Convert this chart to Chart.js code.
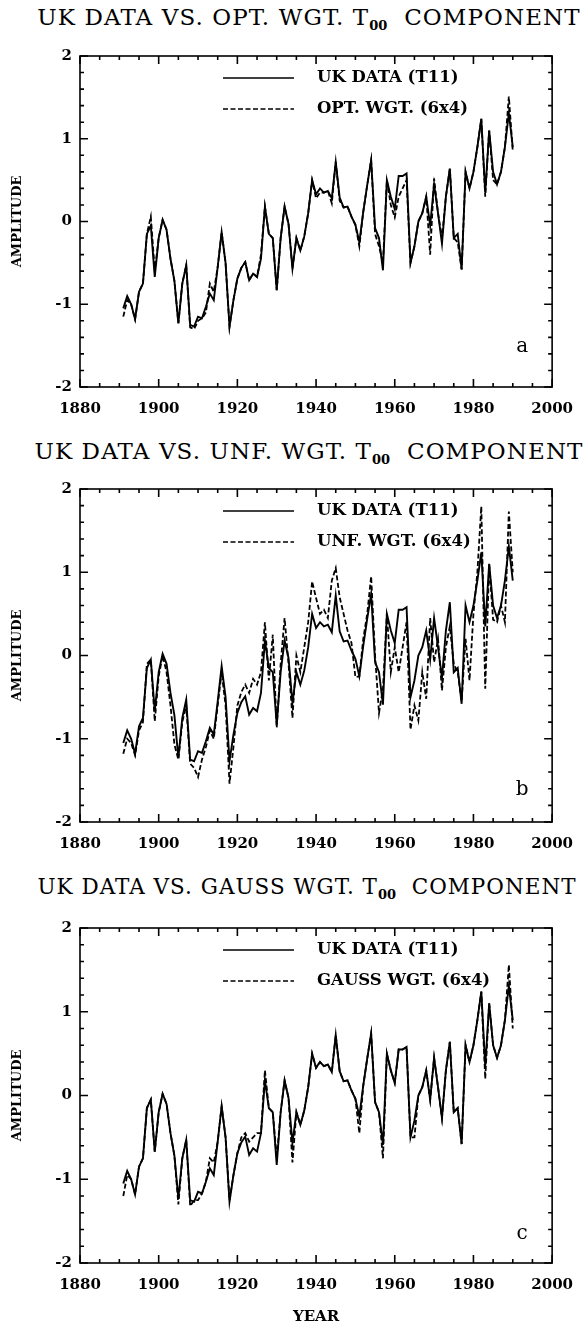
<!DOCTYPE html>
<html>
<head>
<meta charset="utf-8">
<script src="https://cdn.jsdelivr.net/npm/chart.js@4"></script>
<style>
  body { margin: 0; background: #fff; }
  #page { position: relative; width: 586px; height: 1326px; overflow: hidden; }
  canvas { position: absolute; left: 0; }
  .ttl {
    position: absolute; transform: translateX(-50%);
    white-space: nowrap; font-family: 'DejaVu Serif', serif; font-size: 23px;
    letter-spacing: 1.1px; line-height: 26px; color: #000;
  }
  .ttl sub { font-size: 13px; font-weight: bold; vertical-align: -5px; letter-spacing: 0; }
</style>
</head>
<body>
<div id="page">
  <div class="ttl" style="top:4px; left:309px">UK DATA VS. OPT. WGT. T<sub>00</sub>&nbsp; COMPONENT</div>
  <div class="ttl" style="top:438px; left:309px">UK DATA VS. UNF. WGT. T<sub>00</sub>&nbsp; COMPONENT</div>
  <div class="ttl" style="top:874px; left:307px; font-size:21.5px; letter-spacing:1px">UK DATA VS. GAUSS WGT. T<sub>00</sub>&nbsp; COMPONENT</div>
  <canvas id="chartA" width="586" height="393" style="top:39px"></canvas>
  <canvas id="chartB" width="586" height="395" style="top:472px"></canvas>
  <canvas id="chartC" width="586" height="415" style="top:911px"></canvas>
</div>
<script>
const years = [
  1891, 1892, 1893, 1894, 1895, 1896, 1897, 1898, 1899, 1900,
  1901, 1902, 1903, 1904, 1905, 1906, 1907, 1908, 1909, 1910,
  1911, 1912, 1913, 1914, 1915, 1916, 1917, 1918, 1919, 1920,
  1921, 1922, 1923, 1924, 1925, 1926, 1927, 1928, 1929, 1930,
  1931, 1932, 1933, 1934, 1935, 1936, 1937, 1938, 1939, 1940,
  1941, 1942, 1943, 1944, 1945, 1946, 1947, 1948, 1949, 1950,
  1951, 1952, 1953, 1954, 1955, 1956, 1957, 1958, 1959, 1960,
  1961, 1962, 1963, 1964, 1965, 1966, 1967, 1968, 1969, 1970,
  1971, 1972, 1973, 1974, 1975, 1976, 1977, 1978, 1979, 1980,
  1981, 1982, 1983, 1984, 1985, 1986, 1987, 1988, 1989, 1990
];

// UK DATA (T11), same curve in all three panels
const ukData = [
  -1.05, -0.90, -1.00, -1.18, -0.85, -0.75, -0.15, -0.05, -0.67, -0.20,
   0.02, -0.10, -0.45, -0.72, -1.23, -0.75, -0.53, -1.25, -1.27, -1.15,
  -1.17, -1.03, -0.87, -0.95, -0.55, -0.13, -0.50, -1.27, -0.95, -0.69,
  -0.56, -0.49, -0.71, -0.63, -0.67, -0.45,  0.18, -0.15, -0.20, -0.83,
  -0.20,  0.18, -0.03, -0.57, -0.20, -0.35, -0.18,  0.10,  0.50,  0.33,
   0.40,  0.35,  0.37,  0.28,  0.72,  0.29,  0.17,  0.18,  0.06, -0.04,
  -0.25,  0.12,  0.44,  0.74, -0.08, -0.20, -0.59,  0.50,  0.30,  0.15,
   0.55,  0.55,  0.58, -0.50, -0.30,  0.00,  0.10,  0.30, -0.05,  0.45,
   0.10, -0.27,  0.30,  0.64, -0.20, -0.15, -0.58,  0.60,  0.40,  0.60,
   0.90,  1.24,  0.35,  1.10,  0.60,  0.45,  0.60,  0.90,  1.31,  0.90
];

// OPT. WGT. (6x4)
const optData = [
  -1.15, -0.95, -1.00, -1.18, -0.85, -0.75, -0.15,  0.06, -0.60, -0.20,
   0.02, -0.10, -0.45, -0.72, -1.23, -0.75, -0.53, -1.28, -1.30, -1.20,
  -1.17, -1.10, -0.75, -0.85, -0.55, -0.13, -0.50, -1.27, -0.95, -0.69,
  -0.56, -0.49, -0.71, -0.63, -0.67, -0.40,  0.18, -0.15, -0.20, -0.83,
  -0.20,  0.18, -0.03, -0.57, -0.20, -0.35, -0.18,  0.10,  0.50,  0.28,
   0.35,  0.35,  0.37,  0.22,  0.72,  0.25,  0.17,  0.18,  0.06, -0.04,
  -0.30,  0.12,  0.44,  0.74, -0.15, -0.30, -0.50,  0.50,  0.20,  0.05,
   0.30,  0.40,  0.50, -0.50, -0.30,  0.00,  0.10,  0.30, -0.40,  0.52,
   0.10, -0.20,  0.30,  0.64, -0.20, -0.25, -0.58,  0.60,  0.40,  0.60,
   0.90,  1.24,  0.30,  1.10,  0.50,  0.45,  0.60,  0.90,  1.51,  0.85
];

// UNF. WGT. (6x4)
const unfData = [
  -1.18, -1.00, -1.05, -1.20, -0.90, -0.80, -0.10, -0.05, -0.79, -0.25,
   0.00, -0.20, -0.60, -1.07, -1.25, -0.80, -0.60, -1.30, -1.35, -1.46,
  -1.25, -1.10, -0.90, -1.00, -0.60, -0.20, -0.60, -1.54, -1.10, -0.60,
  -0.44, -0.35, -0.45, -0.28, -0.35, -0.20,  0.40, -0.30,  0.25, -0.87,
  -0.10,  0.45, -0.10, -0.75,  0.00, -0.20,  0.10,  0.40,  0.89,  0.69,
   0.50,  0.55,  0.45,  0.90,  1.05,  0.70,  0.50,  0.30,  0.15, -0.26,
  -0.25,  0.20,  0.50,  0.95,  0.00, -0.69, -0.40,  0.50, -0.20,  0.10,
  -0.20,  0.10,  0.40, -0.89, -0.60, -0.78, -0.20, -0.52,  0.45, -0.08,
   0.20, -0.42,  0.10,  0.35, -0.10, -0.20, -0.55,  0.20, -0.30,  0.50,
   1.00,  1.79, -0.40,  1.10,  0.43,  0.40,  0.60,  0.40,  1.73,  1.00
];

// GAUSS WGT. (6x4)
const gaussData = [
  -1.20, -0.95, -1.00, -1.18, -0.85, -0.75, -0.15, -0.05, -0.67, -0.20,
   0.02, -0.10, -0.45, -0.72, -1.30, -0.75, -0.53, -1.32, -1.25, -1.25,
  -1.17, -1.03, -0.75, -0.80, -0.55, -0.13, -0.50, -1.25, -0.95, -0.69,
  -0.50, -0.45, -0.55, -0.50, -0.45, -0.45,  0.30, -0.15, -0.20, -0.75,
  -0.20,  0.18, -0.03, -0.80, -0.20, -0.35, -0.18,  0.10,  0.50,  0.33,
   0.40,  0.35,  0.37,  0.28,  0.72,  0.29,  0.17,  0.18,  0.06, -0.04,
  -0.45,  0.12,  0.44,  0.74, -0.08, -0.20, -0.75,  0.50,  0.30,  0.15,
   0.55,  0.55,  0.58, -0.50, -0.50,  0.00,  0.10,  0.30, -0.05,  0.45,
   0.10, -0.27,  0.30,  0.64, -0.20, -0.15, -0.58,  0.60,  0.40,  0.60,
   0.90,  1.24,  0.20,  1.10,  0.60,  0.45,  0.60,  0.90,  1.56,  0.80
];

const xTicks = [1880, 1900, 1920, 1940, 1960, 1980, 2000];
const yTicks = [-2, -1, 0, 1, 2];

const FONT = "'DejaVu Serif', serif";

// frame, inward ticks on all four sides, legend and panel letter
const frameTicks = {
    id: 'frameTicks',
    afterDatasetsDraw(chart, args, opts) {
        const {ctx, chartArea: a, scales: {x, y}} = chart;
        ctx.save();
        ctx.strokeStyle = '#000';
        ctx.lineWidth = 1.6;
        ctx.strokeRect(a.left, a.top, a.width, a.height);
        ctx.beginPath();
        for (let yr = 1880; yr <= 2000; yr += 5) {
            const px = x.getPixelForValue(yr);
            const len = yr % 20 === 0 ? 8 : 4;
            ctx.moveTo(px, a.bottom); ctx.lineTo(px, a.bottom - len);
            ctx.moveTo(px, a.top); ctx.lineTo(px, a.top + len);
        }
        for (let i = -10; i <= 10; i++) {
            const py = y.getPixelForValue(i / 5);
            const len = i % 5 === 0 ? 8 : 4;
            ctx.moveTo(a.left, py); ctx.lineTo(a.left + len, py);
            ctx.moveTo(a.right, py); ctx.lineTo(a.right - len, py);
        }
        ctx.stroke();

        // legend
        const lx0 = a.left + 143, lx1 = a.left + 214, tx = a.left + 237;
        const rows = [{y: a.top + 22, dash: []}, {y: a.top + 53, dash: [5, 2.5]}];
        ctx.lineWidth = 1.6;
        chart.data.datasets.forEach((ds, i) => {
            const r = rows[i];
            ctx.setLineDash(r.dash);
            ctx.beginPath();
            ctx.moveTo(lx0, r.y); ctx.lineTo(lx1, r.y);
            ctx.stroke();
            ctx.setLineDash([]);
            ctx.fillStyle = '#000';
            ctx.font = 'bold 16.5px ' + FONT;
            ctx.textBaseline = 'middle';
            ctx.textAlign = 'left';
            ctx.fillText(ds.label, tx, r.y);
        });

        // panel letter
        ctx.font = '20px ' + FONT;
        ctx.textAlign = 'center';
        ctx.textBaseline = 'middle';
        ctx.fillText(opts.letter, a.right - 30, a.bottom - opts.letterUp);
        ctx.restore();
    }
};

function makeConfig(model, modelLabel, letter, letterUp, xHeight, showYear) {
    return {
        type: 'line',
        data: {
            datasets: [
                {
                    label: 'UK DATA (T11)',
                    data: years.map((yr, i) => ({x: yr, y: ukData[i]})),
                    borderColor: '#000',
                    borderWidth: 1.9,
                    pointRadius: 0,
                    tension: 0,
                },
                {
                    label: modelLabel,
                    data: years.map((yr, i) => ({x: yr, y: model[i]})),
                    borderColor: '#000',
                    borderWidth: 1.8,
                    borderDash: [5, 2.5],
                    pointRadius: 0,
                    tension: 0,
                }
            ]
        },
        options: {
            responsive: false,
            animation: false,
            events: [],
            layout: {
                padding: {top: 12, right: 33, left: 0, bottom: 0}
            },
            plugins: {
                legend: {display: false},
                tooltip: {enabled: false},
                frameTicks: {letter: letter, letterUp: letterUp}
            },
            scales: {
                x: {
                    type: 'linear',
                    min: 1880,
                    max: 2000,
                    afterBuildTicks: (s) => { s.ticks = xTicks.map(v => ({value: v})); },
                    afterFit: (s) => { s.height = xHeight; },
                    grid: {display: false, drawTicks: false},
                    border: {display: false},
                    ticks: {
                        padding: 13,
                        color: '#000',
                        maxRotation: 0,
                        callback: (v) => String(v),
                        font: {family: FONT, size: 15, weight: 'bold'},
                    },
                    title: {
                        display: showYear,
                        text: 'YEAR',
                        color: '#000',
                        padding: {top: 0, bottom: 0},
                        font: {family: FONT, size: 15, weight: 'bold'},
                    }
                },
                y: {
                    min: -2,
                    max: 2,
                    afterBuildTicks: (s) => { s.ticks = yTicks.map(v => ({value: v})); },
                    afterFit: (s) => { s.width = 80; },
                    grid: {display: false, drawTicks: false},
                    border: {display: false},
                    ticks: {
                        padding: 8,
                        color: '#000',
                        callback: (v) => String(v),
                        font: {family: FONT, size: 15, weight: 'bold'},
                    },
                    title: {
                        display: true,
                        text: 'AMPLITUDE',
                        color: '#000',
                        padding: {top: 10, bottom: 0},
                        font: {family: FONT, size: 13, weight: 'bold'},
                    }
                }
            }
        },
        plugins: [frameTicks]
    };
}

/*eslint-disable no-unused-vars*/
const chartA = new Chart(document.getElementById('chartA'), makeConfig(optData, 'OPT. WGT. (6x4)', 'a', 40, 45, false));
const chartB = new Chart(document.getElementById('chartB'), makeConfig(unfData, 'UNF. WGT. (6x4)', 'b', 32, 45, false));
const chartC = new Chart(document.getElementById('chartC'), makeConfig(gaussData, 'GAUSS WGT. (6x4)', 'c', 29, 63, true));
</script>
</body>
</html>
